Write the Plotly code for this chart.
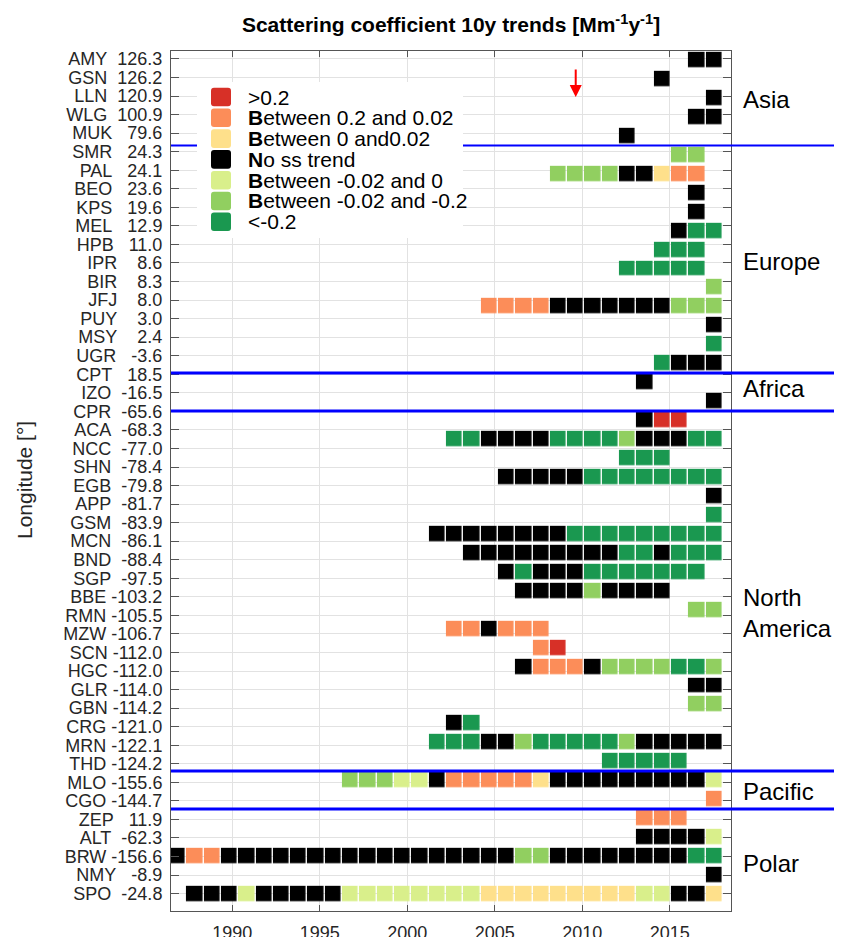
import plotly.graph_objects as go

# ---------------- data ----------------
years = list(range(1987, 2019))

stations = ["AMY", "GSN", "LLN", "WLG", "MUK", "SMR", "PAL", "BEO", "KPS", "MEL",
            "HPB", "IPR", "BIR", "JFJ", "PUY", "MSY", "UGR", "CPT", "IZO", "CPR",
            "ACA", "NCC", "SHN", "EGB", "APP", "GSM", "MCN", "BND", "SGP", "BBE",
            "RMN", "MZW", "SCN", "HGC", "GLR", "GBN", "CRG", "MRN", "THD", "MLO",
            "CGO", "ZEP", "ALT", "BRW", "NMY", "SPO"]
longitudes = [126.3, 126.2, 120.9, 100.9, 79.6, 24.3, 24.1, 23.6, 19.6, 12.9,
              11.0, 8.6, 8.3, 8.0, 3.0, 2.4, -3.6, 18.5, -16.5, -65.6,
              -68.3, -77.0, -78.4, -79.8, -81.7, -83.9, -86.1, -88.4, -97.5, -103.2,
              -105.5, -106.7, -112.0, -112.0, -114.0, -114.2, -121.0, -122.1, -124.2, -155.6,
              -144.7, 11.9, -62.3, -156.6, -8.9, -24.8]

categories = [">0.2", "Between 0.2 and 0.02", "Between 0 and0.02", "No ss trend",
              "Between -0.02 and 0", "Between -0.02 and -0.2", "<-0.2"]
category_codes = ["R", "O", "Y", "K", "P", "L", "G"]
category_colors = ["#d73027", "#fc8d59", "#fee08b", "#000000",
                   "#d9ef8b", "#91cf60", "#1a9850"]

# one entry per drawn row of cells (45 rows, top to bottom): first year, then one code per year
trend_rows = [
    (2017, "KK"),                                  # AMY
    (2015, "K"),                                   # GSN
    (2018, "K"),                                   # LLN
    (2017, "KK"),                                  # WLG
    (2013, "K"),                                   # MUK
    (2016, "LL"),                                  # SMR
    (2009, "LLLLKKYOO"),                           # PAL
    (2017, "K"),                                   # BEO
    (2017, "K"),                                   # KPS
    (2016, "KGG"),                                 # MEL
    (2015, "GGG"),                                 # HPB
    (2013, "GGGGG"),                               # IPR
    (2018, "L"),                                   # BIR
    (2005, "OOOOKKKKKKKLLL"),                      # JFJ
    (2018, "K"),                                   # PUY
    (2018, "G"),                                   # MSY
    (2015, "GKKK"),                                # UGR
    (2014, "K"),                                   # CPT
    (2018, "K"),                                   # IZO
    (2014, "KRR"),
    (2003, "GGKKKKGGGGLKKKGG"),
    (2013, "GGG"),
    (2006, "KKKKKGGGGGGGG"),
    (2018, "K"),
    (2018, "G"),
    (2002, "KKKKKKKKGGGGGGGGG"),
    (2004, "KKKKKKKKKGGKGGG"),
    (2006, "KGKKKGGGGGGG"),
    (2007, "KKKKLKKKK"),
    (2017, "LL"),
    (2003, "OOKOOO"),
    (2008, "OR"),
    (2007, "KOOOKLLLLGGL"),
    (2017, "KK"),
    (2017, "LL"),
    (2003, "KG"),
    (2002, "GGGKKLGGGGGLKKKKK"),
    (2012, "GGGGG"),                               # THD
    (1997, "LLLPPKOOOOOYKKKKKKKKKP"),              # MLO
    (2018, "O"),                                   # CGO
    (2014, "OOO"),                                 # ZEP
    (2014, "KKKKP"),                               # ALT
    (1987, "KOOKKKKKKKKKKKKKKKKKLLKKKKKKKKGG"),    # BRW
    (2018, "K"),                                   # NMY
    (1988, "KKKPKKKKKPPPPPPPPYYYYYYYYYPPKKY"),     # SPO
]

regions = ["Asia", "Europe", "Africa", "North<br>America", "Pacific", "Polar"]
region_bounds = [4.5, 16.5, 18.5, 37.5, 39.5]      # boundaries between cell rows

year_ticks = [1990, 1995, 2000, 2005, 2010, 2015]
arrow_year = 2010

# ---------------- geometry / style ----------------
OFF = 8                      # page margin of the html body
SW, SH = 842, 937            # window size
W, H = SW - OFF, SH - OFF    # figure size
# plot area in window pixels
SL, SR, ST, SB = 171, 731, 51, 911
L, R, T, B = SL - OFF, SR - OFF, ST - OFF, SB - OFF
FONT = "Liberation Sans, Arial, Helvetica, sans-serif"
X_RANGE = [1986.5, 2018.5]
X2_RANGE = [1986.62, 2018.97]
Y_RANGE = [45.94, -0.43]
Y2_RANGE = [44.88, -0.49]


def px_x(x):
    """window x pixel -> paper coordinate"""
    return (x - SL) / (SR - SL)


def px_y(y):
    """window y pixel -> paper coordinate"""
    return 1 - (y - ST) / (SB - ST)


def y2_paper(v):
    top, bot = Y2_RANGE[1], Y2_RANGE[0]
    return 1 - (v - top) / (bot - top)


# ---------------- build cell matrix ----------------
code_index = {c: i for i, c in enumerate(category_codes)}
z = []
for start, codes in trend_rows:
    row = [None] * len(years)
    for k, c in enumerate(codes):
        row[years.index(start + k)] = code_index[c]
    z.append(row)

n = len(category_colors)
colorscale = []
for i, c in enumerate(category_colors):
    colorscale.append([i / n, c])
    colorscale.append([(i + 1) / n, c])

fig = go.Figure()
# empty trace so that the labelled x/y axes exist
fig.add_trace(go.Scatter(x=[], y=[], xaxis="x", yaxis="y", showlegend=False,
                         hoverinfo="skip"))
fig.add_trace(go.Heatmap(
    x=years, y=list(range(len(trend_rows))), z=z,
    zmin=-0.5, zmax=n - 0.5, colorscale=colorscale, showscale=False,
    xgap=1.4, ygap=3.6, hoverongaps=False, hoverinfo="skip",
    xaxis="x2", yaxis="y2",
))


def fmt_label(code, lon):
    return (code + " " + f"{lon:6.1f}").replace(" ", "\u00a0")


ticktext = [fmt_label(s, v) for s, v in zip(stations, longitudes)]

axis_color = "#555555"
grid_color = "#e2e2e2"
fig.update_layout(
    width=W, height=H,
    margin=dict(l=L, r=W - R, t=T, b=H - B, autoexpand=False),
    paper_bgcolor="white", plot_bgcolor="white",
    font=dict(family=FONT, color="#262626", size=18),
    showlegend=False,
    title=dict(text="<b>Scattering coefficient 10y trends [Mm<sup>-1</sup>y<sup>-1</sup>]</b>",
               x=0.5, xref="paper", xanchor="center",
               y=1 - (25 - OFF) / H, yref="container", yanchor="middle",
               font=dict(family=FONT, size=21, color="black")),
    xaxis=dict(range=X_RANGE, tickvals=year_ticks, showgrid=True, gridcolor=grid_color,
               gridwidth=1, zeroline=False, showline=True, linecolor=axis_color, linewidth=1,
               mirror="ticks", ticks="inside", ticklen=6, tickcolor=axis_color,
               tickfont=dict(size=18, color="#262626"), ticklabelstandoff=5),
    yaxis=dict(range=Y_RANGE, tickvals=list(range(len(stations))), ticktext=ticktext,
               showgrid=True, gridcolor=grid_color, gridwidth=1, zeroline=False,
               showline=True, linecolor=axis_color, linewidth=1, mirror="ticks",
               ticks="inside", ticklen=8, tickcolor=axis_color,
               tickfont=dict(size=18, color="#262626"), ticklabelstandoff=4),
    xaxis2=dict(range=X2_RANGE, overlaying="x", visible=False, showgrid=False),
    yaxis2=dict(range=Y2_RANGE, overlaying="y", visible=False, showgrid=False),
)

shapes = []
# region separators
for i, v in enumerate(region_bounds):
    yp = y2_paper(v)
    shapes.append(dict(type="line", xref="paper", yref="paper", x0=0, x1=px_x(SW + 2),
                       y0=yp, y1=yp, line=dict(color="#0000ff", width=2 if i == 0 else 3),
                       layer="above"))

# legend background
shapes.append(dict(type="rect", xref="paper", yref="paper",
                   x0=px_x(197), x1=px_x(463), y0=px_y(238), y1=px_y(82),
                   fillcolor="white", line=dict(width=0), layer="above"))


def rounded_rect(x0, y0, x1, y1, r):
    X = px_x
    Y = px_y
    return (f"M {X(x0 + r)},{Y(y0)} L {X(x1 - r)},{Y(y0)} Q {X(x1)},{Y(y0)} {X(x1)},{Y(y0 + r)} "
            f"L {X(x1)},{Y(y1 - r)} Q {X(x1)},{Y(y1)} {X(x1 - r)},{Y(y1)} "
            f"L {X(x0 + r)},{Y(y1)} Q {X(x0)},{Y(y1)} {X(x0)},{Y(y1 - r)} "
            f"L {X(x0)},{Y(y0 + r)} Q {X(x0)},{Y(y0)} {X(x0 + r)},{Y(y0)} Z")


annotations = []
leg_y0, leg_dy = 97, 20.8
for i, (name, col) in enumerate(zip(categories, category_colors)):
    cy = leg_y0 + i * leg_dy
    shapes.append(dict(type="path", xref="paper", yref="paper",
                       path=rounded_rect(211, cy - 9.3, 231, cy + 9.3, 3),
                       fillcolor=col, line=dict(width=0), layer="above"))
    label = name
    if name.startswith("Between") or name.startswith("No"):
        label = "<b>" + name[0] + "</b>" + name[1:]
    annotations.append(dict(text=label, xref="paper", yref="paper", x=px_x(246), y=px_y(cy),
                            xanchor="left", yanchor="middle", showarrow=False,
                            font=dict(family=FONT, size=21, color="black")))

# region labels
region_y = [99, 261, 388, 613, 791, 863]
for name, ry in zip(regions, region_y):
    annotations.append(dict(text=name, xref="paper", yref="paper", x=px_x(741), y=px_y(ry),
                            xanchor="left", yanchor="middle", align="left", showarrow=False,
                            font=dict(family=FONT, size=24, color="black")))

# y axis title
annotations.append(dict(text="Longitude [°]", xref="paper", yref="paper", x=px_x(24),
                        y=px_y(480), xanchor="center", yanchor="middle", textangle=-90,
                        showarrow=False, font=dict(family=FONT, size=21, color="#262626")))

# red arrow
annotations.append(dict(text="", xref="x2", yref="paper", x=arrow_year, y=px_y(97),
                        ax=0, ay=-29, showarrow=True, arrowhead=2, arrowsize=1.2,
                        arrowwidth=2, arrowcolor="#ff0000"))

fig.update_layout(shapes=shapes, annotations=annotations)
fig.write_html("out.html")
